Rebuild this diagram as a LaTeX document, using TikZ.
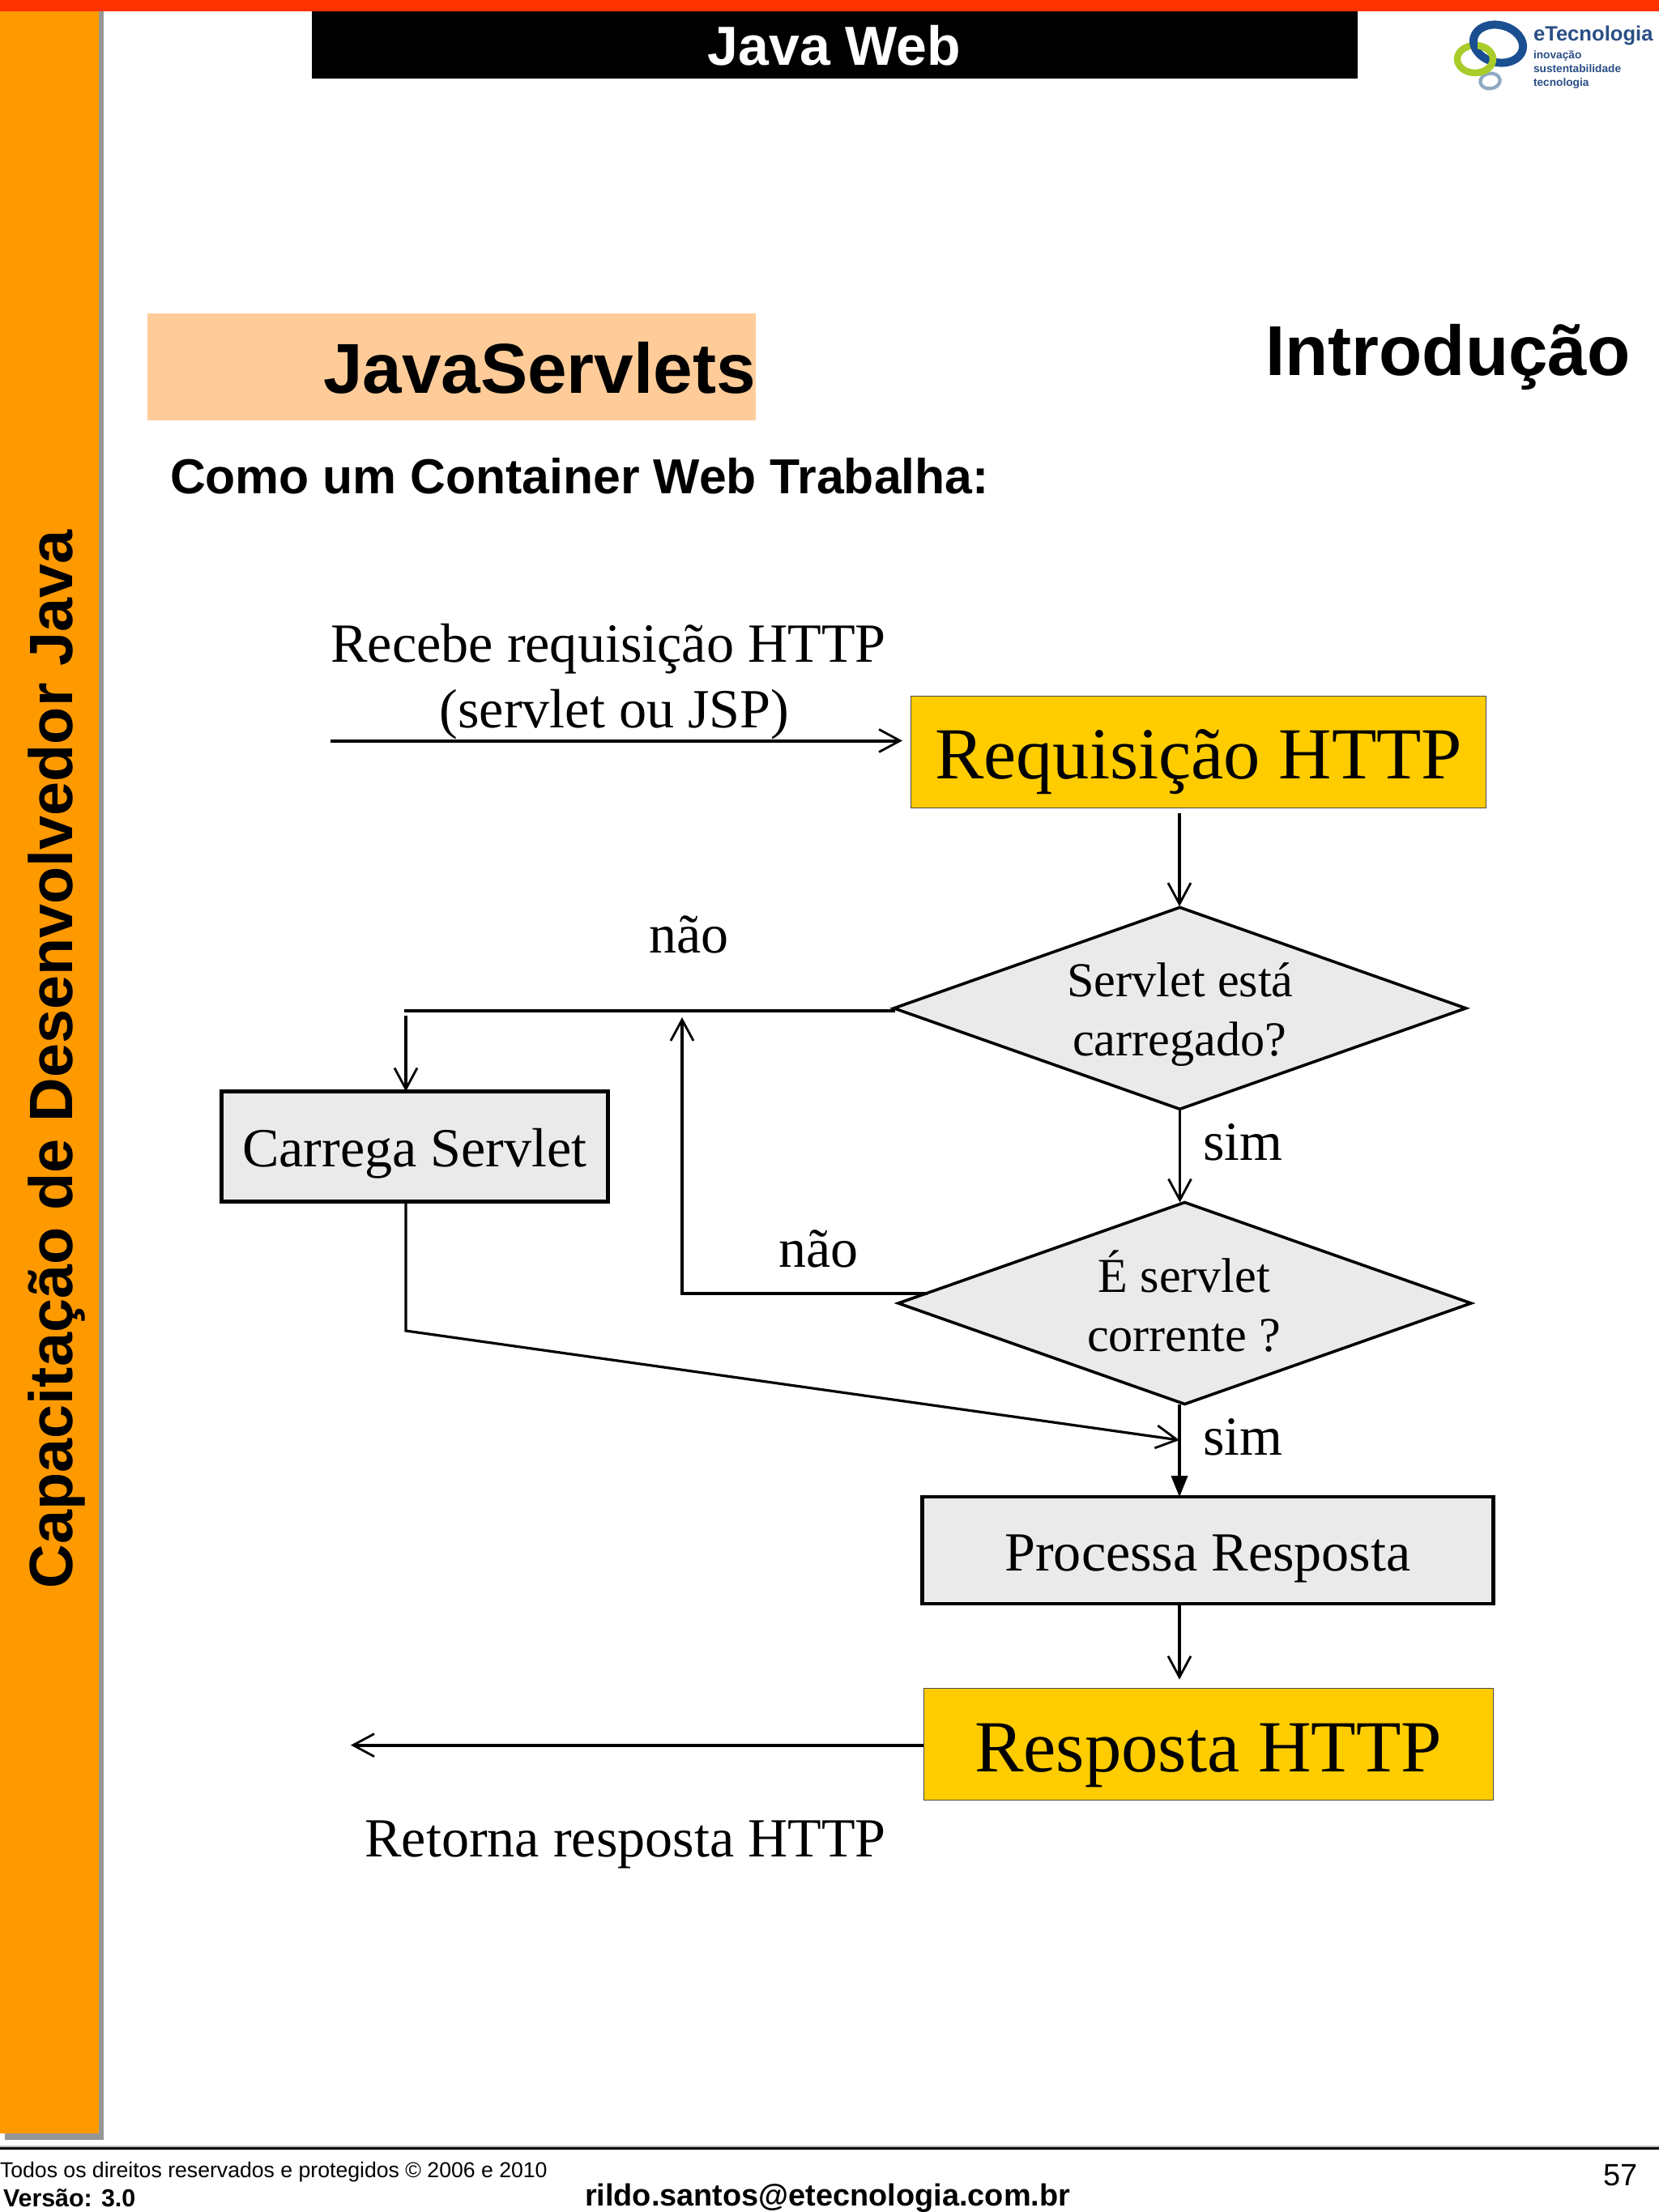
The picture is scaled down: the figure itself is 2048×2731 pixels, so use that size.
\documentclass[tikz,border=0pt]{standalone}
\usepackage{fontspec}
\setmainfont{Liberation Serif}
\setsansfont{Liberation Sans}
\usetikzlibrary{arrows.meta,shapes.geometric}
\newcommand{\fsz}[1]{\fontsize{#1pt}{#1pt}\selectfont}
\definecolor{barred}{HTML}{FF3300}
\definecolor{barorange}{HTML}{FF9900}
\definecolor{shadowgray}{HTML}{969696}
\definecolor{peach}{HTML}{FFCC99}
\definecolor{boxyellow}{HTML}{FFCC00}
\definecolor{boxgray}{HTML}{EAEAEA}
\definecolor{logoblue}{HTML}{1A4F91}
\definecolor{logogreen}{HTML}{A9CC2B}
\definecolor{logopale}{HTML}{8FA9C4}
\definecolor{logotext}{HTML}{2A4F85}
\tikzset{
  txt/.style={inner sep=0pt,outer sep=0pt,anchor=base},
  txtw/.style={inner sep=0pt,outer sep=0pt,anchor=base west},
  sansb/.style={font=\sffamily\bfseries\fsz{#1}},
  serif/.style={font=\rmfamily\fsz{#1}},
  logot/.style={txtw,text=logotext,font=\sffamily\bfseries\fsz{#1}},
  yellowbox/.style={draw=black!70,line width=0.5pt,fill=boxyellow,inner sep=0pt,outer sep=0pt},
  graybox/.style={draw=black,line width=2.2pt,fill=boxgray,inner sep=0pt,outer sep=0pt},
  decision/.style={diamond,draw=black,line width=1.8pt,fill=boxgray,inner sep=0pt,outer sep=0pt},
  openhead/.style={-{Straight Barb[length=13pt,width=14pt,line width=1.4pt]}},
  conn/.style={line width=1.6pt,draw=black,openhead},
  connthick/.style={line width=2pt,draw=black,openhead},
  thickline/.style={line width=2.2pt,draw=black},
}
\begin{document}
\begin{tikzpicture}[x=0.5pt,y=-0.5pt]
\useasboundingbox (0,0) rectangle (2048,2731);
\fill[white] (0,0) rectangle (2048,2731);
% frame
\fill[shadowgray] (6,14) rectangle (128,2642);
\fill[barorange] (0,14) rectangle (122,2634);
\fill[barred] (0,0) rectangle (2048,14);
\fill[black] (385,14) rectangle (1676,97);
\fill[peach] (181.5,387) rectangle (933,519);
\fill[shadowgray!60] (0,2649) rectangle (2048,2651);
\fill[black] (0,2651) rectangle (2048,2654);
% header text
\node[txt,sansb=34,text=white] (title) at (1030,80) {Java Web};
\node[txt,sansb=37.8,rotate=90,anchor=base west] (side) at (89,1961) {Capacitação de Desenvolvedor Java};
\node[txtw,sansb=43.65] (js) at (399,485) {JavaServlets};
\node[txtw,sansb=43.6] (intro) at (1562,463) {Introdução};
\node[txtw,sansb=30.35] (como) at (210,609.5) {Como um Container Web Trabalha:};
% logo
\draw[logopale,line width=2.1pt,rotate around={8:(1839.5,100)}] (1839.5,100) ellipse [x radius=12.2,y radius=9.4];
\draw[logogreen,line width=4.2pt] (1821,73) ellipse [x radius=22,y radius=17];
\draw[logoblue,line width=5pt,rotate around={-14:(1849.5,54)}] (1849.5,54) ellipse [x radius=31,y radius=23];
\begin{scope}
\clip (1824,45) rectangle (1850,90);
\draw[logogreen,line width=4.2pt] (1821,73) ellipse [x radius=22,y radius=17];
\end{scope}
\node[logot=12.8] (lg1) at (1893,50.7) {eTecnologia};
\node[logot=6.85] (lg2) at (1893,72.7) {inovação};
\node[logot=6.85] (lg3) at (1893,89) {sustentabilidade};
\node[logot=6.85] (lg4) at (1893,106) {tecnologia};
% flow boxes
\node[yellowbox,minimum width=355pt,minimum height=69pt] (req) at (1479,928) {};
\node[txt,serif=45.25] (reqt) at (1479.5,961.5) {Requisição HTTP};
\node[decision,minimum width=353pt,minimum height=124.5pt] (d1) at (1456.5,1244.8) {};
\node[txt,serif=30.1] (d1a) at (1457,1230) {Servlet está};
\node[txt,serif=30.1] (d1b) at (1456,1303) {carregado?};
\node[graybox,minimum width=238.5pt,minimum height=68pt] (load) at (512,1415.5) {};
\node[txt,serif=34.05] (loadt) at (512,1440.5) {Carrega Servlet};
\node[decision,minimum width=353.5pt,minimum height=124.5pt] (d2) at (1462.5,1609) {};
\node[txt,serif=30.1] (d2a) at (1462,1595) {É servlet};
\node[txt,serif=30.1] (d2b) at (1461.5,1668) {corrente ?};
\node[graybox,minimum width=352.5pt,minimum height=65.8pt] (proc) at (1491,1914) {};
\node[txt,serif=34.05] (proct) at (1491,1939.5) {Processa Resposta};
\node[yellowbox,minimum width=351.7pt,minimum height=68.8pt] (resp) at (1492,2153.2) {};
\node[txt,serif=45.35] (respt) at (1491.5,2187) {Resposta HTTP};
% flow labels
\node[txt,serif=34.1] (rec1) at (751,817.5) {Recebe requisição HTTP};
\node[txt,serif=34.1] (rec2) at (758.5,898) {(servlet ou JSP)};
\node[txt,serif=34] (nao1) at (850.5,1176.5) {não};
\node[txt,serif=34] (sim1) at (1534.5,1432) {sim};
\node[txt,serif=34] (nao2) at (1010.5,1564) {não};
\node[txt,serif=34] (sim2) at (1534.5,1796.5) {sim};
\node[txt,serif=34.05] (ret) at (772,2292) {Retorna resposta HTTP};
% connector ends
\coordinate (inStart) at (408,914.5);
\coordinate (inEnd) at (1114,914.5);
\coordinate (reqOut) at (1456,1004);
\coordinate (d1In) at (1456,1119);
\coordinate (d1OutL) at (1105,1248);
\coordinate (branchL) at (499,1248);
\coordinate (branchDown) at (501,1254);
\coordinate (d2OutL) at (1145,1597);
\coordinate (retCorner) at (842,1597);
\coordinate (retTip) at (842,1256);
\coordinate (loadCorner) at (501,1643);
\coordinate (mergeTip) at (1456,1778);
\coordinate (procOut) at (1456,1981);
\coordinate (respIn) at (1456,2073.6);
\coordinate (respOutEnd) at (433,2154.6);
% connectors
\draw[connthick] (inStart) -- (inEnd);
\draw[conn] (reqOut) -- (d1In);
\draw[conn] (d1.south) -- (d1.south |- d2.north);
\draw[thickline] (d1OutL) -- (branchL);
\draw[conn] (branchDown) -- (branchDown |- load.north);
\draw[conn] (d2OutL) -- (retCorner) -- (retTip);
\draw[conn] (branchDown |- load.south) -- (loadCorner) -- (mergeTip);
\draw[line width=1.6pt,-{Triangle[length=13pt,width=10pt]}] (d2.south -| mergeTip) -- (mergeTip |- proc.north);
\draw[conn] (procOut) -- (respIn);
\draw[connthick] (resp.west |- respOutEnd) -- (respOutEnd);
% footer
\node[txtw,font=\sffamily\fsz{13.32}] (foot1) at (0,2688) {Todos os direitos reservados e protegidos © 2006 e 2010};
\node[txtw,sansb=15.2] (foot2) at (4,2724) {Versão: 3.0};
\node[txtw,sansb=18.95] (foot3) at (722,2723) {rildo.santos@etecnologia.com.br};
\node[txtw,font=\sffamily\fsz{19}] (foot4) at (1979,2698) {57};
\end{tikzpicture}
\end{document}
